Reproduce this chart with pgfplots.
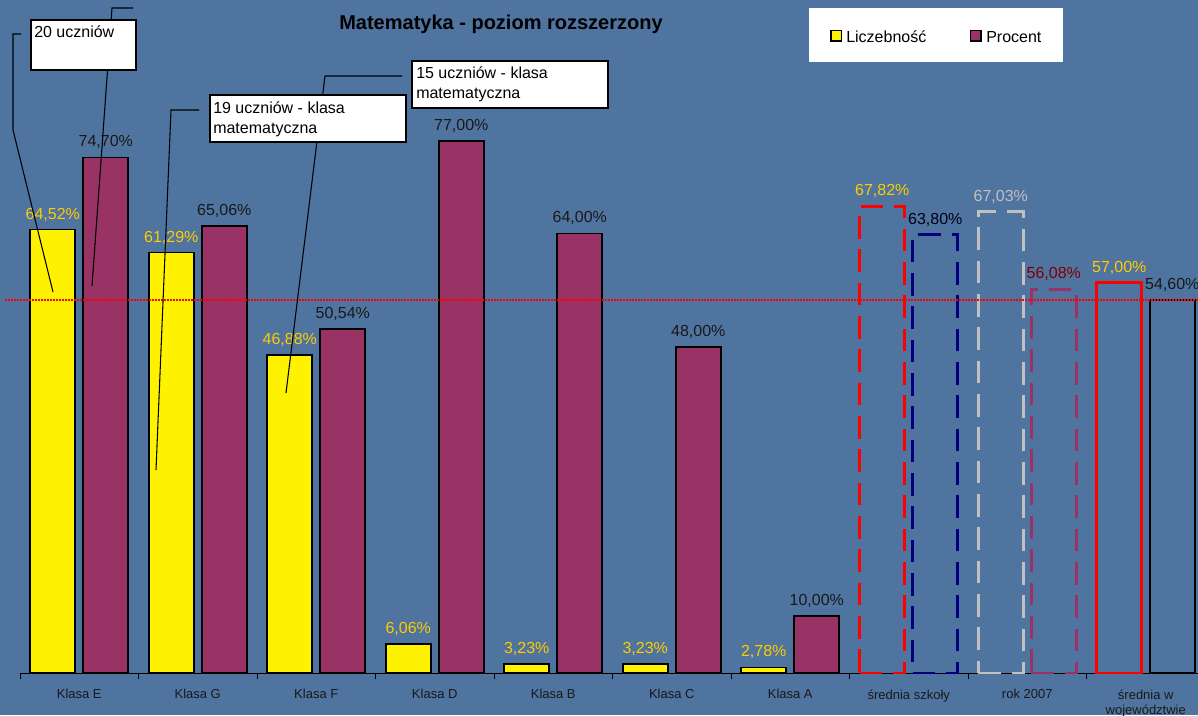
\documentclass[border=0pt]{standalone}
\usepackage{fontspec}
\setmainfont{Liberation Sans}
\usepackage{pgfplots}
\pgfplotsset{compat=1.18}
\definecolor{bg}{RGB}{79,116,160}
\definecolor{plum}{RGB}{153,51,102}
\definecolor{gold}{RGB}{255,204,0}
\definecolor{navyc}{RGB}{0,0,128}
\definecolor{silverc}{RGB}{192,192,192}
\definecolor{darkredc}{RGB}{128,0,0}
\begin{document}
\begin{tikzpicture}
\path[use as bounding box] (0,0) rectangle (898.5pt,-536.25pt);
\fill[bg] (0,0) rectangle (898.5pt,-536.25pt);
\begin{axis}[
  at={(15pt,-504.75pt)}, anchor=south west,
  scale only axis, width=883.5pt, height=504.75pt,
  xmin=-0.5, xmax=9.441, ymin=2, ymax=96.9,
  axis x line=bottom, axis y line=none,
  x axis line style={-, black, line width=0.75pt},
  xtick={0,...,9},
  xticklabels={Klasa E,Klasa G,Klasa F,Klasa D,Klasa B,Klasa C,Klasa A,średnia szkoły,rok 2007,{średnia w\\województwie}},
  major x tick style={draw=none},
  minor xtick={-0.5,0.5,...,9.5},
  tick align=outside,
  minor tick length=4.5pt,
  minor x tick style={black, line width=0.75pt},
  xticklabel style={font=\fontsize{9.75}{11.5}\selectfont, align=center, yshift=-4.6pt, text=black!90},
  ytick=\empty,
  nodes near coords={\pgfmathprintnumber[fixed,fixed zerofill,precision=2,use comma,assume math mode=true]{\pgfplotspointmeta}\%},
  every node near coord/.append style={font=\fontsize{12}{14}\selectfont, anchor=base, inner sep=0pt, yshift=7.9pt},
]
\addplot[ybar, bar width=33.75pt, bar shift=-19.875pt, fill=yellow, draw=black, line width=1.2pt,
  every node near coord/.append style={text=gold, xshift=-19.875pt}]
  coordinates {(0,64.52) (1,61.29) (2,46.88) (3,6.06) (4,3.23) (5,3.23) (6,2.78)};
\addplot[ybar, bar width=33.75pt, bar shift=19.875pt, fill=plum, draw=black, line width=1.2pt,
  every node near coord/.append style={text=black!90, xshift=19.875pt}]
  coordinates {(0,74.70) (1,65.06) (2,50.54) (3,77.00) (4,64.00) (5,48.00) (6,10.00)};
% srednia szkoly
\addplot[ybar, bar width=33.75pt, bar shift=-19.875pt, fill=none, draw=red, line width=2.25pt,
  dash pattern=on 17pt off 8pt, every node near coord/.append style={text=gold, xshift=-19.875pt}]
  coordinates {(7,67.82)};
\addplot[ybar, bar width=33.75pt, bar shift=19.875pt, fill=none, draw=navyc, line width=2.25pt,
  dash pattern=on 17pt off 8pt, every node near coord/.append style={text=black!85!navyc, xshift=19.875pt}]
  coordinates {(7,63.80)};
% rok 2007
\addplot[ybar, bar width=33.75pt, bar shift=-19.875pt, fill=none, draw=silverc, line width=2.25pt,
  dash pattern=on 17pt off 8pt, every node near coord/.append style={text=silverc, xshift=-19.875pt}]
  coordinates {(8,67.03)};
\addplot[ybar, bar width=33.75pt, bar shift=19.875pt, fill=none, draw=plum, line width=2.25pt,
  dash pattern=on 17pt off 8pt, every node near coord/.append style={text=darkredc, xshift=19.875pt}]
  coordinates {(8,56.08)};
% srednia w wojewodztwie
\addplot[ybar, bar width=33.75pt, bar shift=-19.875pt, fill=none, draw=red, line width=2.25pt,
  every node near coord/.append style={text=gold, xshift=-19.875pt}]
  coordinates {(9,57.00)};
\addplot[ybar, bar width=33.75pt, bar shift=19.875pt, fill=none, draw=black, line width=1.9pt,
  every node near coord/.append style={text=black!90, xshift=19.875pt}]
  coordinates {(9,54.60)};
\end{axis}
\begin{scope}[x=0.75pt,y=-0.75pt]
% reference line at 54.6
\draw[red, line width=1.5pt, dash pattern=on 1.5pt off 0.75pt] (5,300) -- (1198,300);
% leader lines
\draw[black, line width=0.8pt] (21,34) -- (13,34) -- (13,130) -- (53,292);
\draw[black, line width=0.8pt] (133,8) -- (112,8) -- (92,286);
\draw[black, line width=0.8pt] (199,110) -- (171,110) -- (156,470);
\draw[black, line width=0.8pt] (402,76) -- (325,76) -- (286,393);
% callout boxes
\filldraw[fill=white, draw=black, line width=0.9pt] (31,20) rectangle (136,70);
\filldraw[fill=white, draw=black, line width=0.9pt] (210,95) rectangle (406,142);
\filldraw[fill=white, draw=black, line width=0.9pt] (412,61) rectangle (608,108);
\begin{scope}[every node/.style={anchor=base west, inner sep=0pt, font=\fontsize{12}{14}\selectfont}]
\node at (34,37) {20 uczniów};
\node at (213,113) {19 uczniów - klasa};
\node at (213,133) {matematyczna};
\node at (416,78) {15 uczniów - klasa};
\node at (416,98) {matematyczna};
\end{scope}
% legend
\fill[white] (809,8) rectangle (1063,62);
\node[anchor=base west, inner sep=0pt, font=\fontsize{12}{14}\selectfont] at (846,42) {Liczebność};
\node[anchor=base west, inner sep=0pt, font=\fontsize{12}{14}\selectfont] at (986,42) {Procent};
\filldraw[fill=yellow, draw=black, line width=0.9pt] (831,30.5) rectangle (841.5,41);
\filldraw[fill=plum, draw=black, line width=0.9pt] (970.5,30.5) rectangle (981,41);
% title
\node[anchor=base, inner sep=0pt, font=\bfseries\fontsize{15}{18}\selectfont] at (501,29) {Matematyka - poziom rozszerzony};
\end{scope}
\end{tikzpicture}
\end{document}
